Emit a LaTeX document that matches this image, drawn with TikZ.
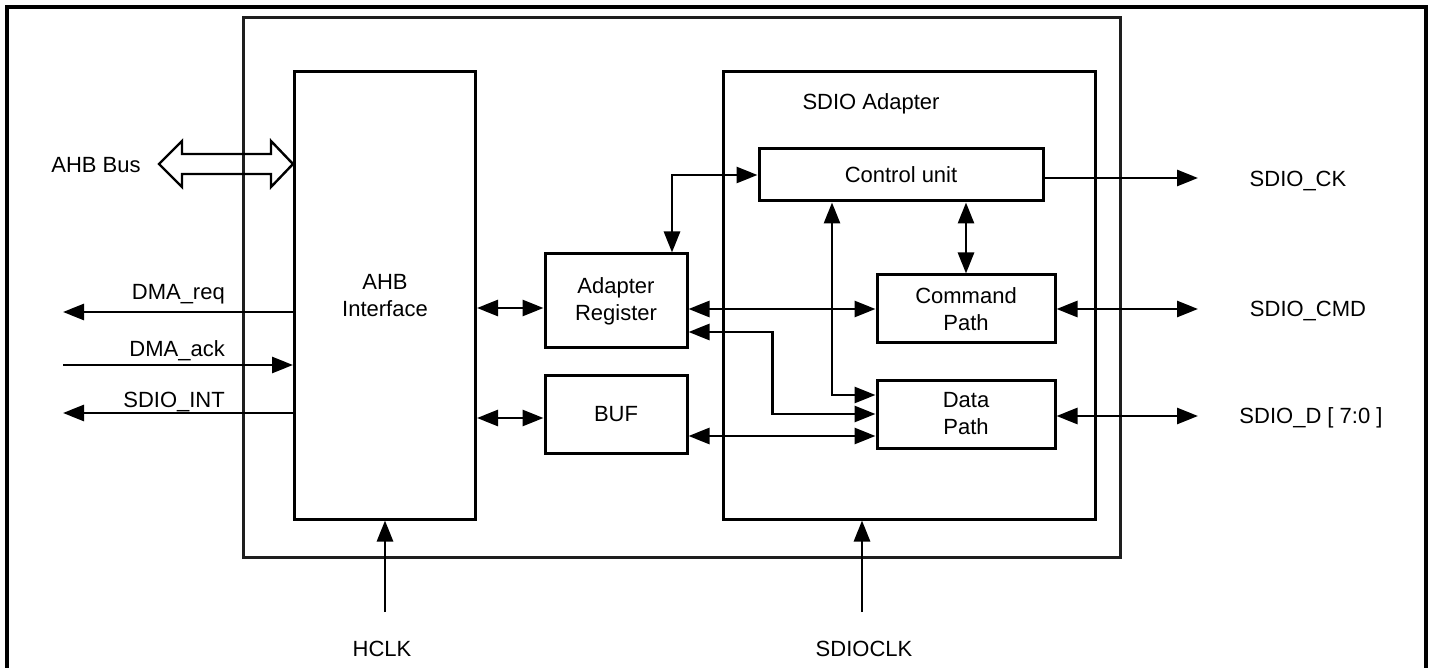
\documentclass[tikz,border=0pt]{standalone}
\usepackage{fontspec}
\setmainfont{Liberation Sans}
\usetikzlibrary{arrows.meta,positioning,calc}
\definecolor{ink}{HTML}{000000}
\definecolor{framegray}{HTML}{1E1E1E}
\tikzset{
  blockbox/.style={draw=ink,line width=3pt,align=center,inner sep=0pt,
                   font=\fontsize{22}{27}\selectfont},
  framebox/.style={draw=framegray,line width=3pt,inner sep=0pt},
  sigarr/.style={draw=ink,line width=2.8pt,
                 >={Triangle[length=21pt,width=16pt]}},
  sigtext/.style={inner sep=0pt,font=\fontsize{22}{27}\selectfont},
  busline/.style={draw=ink,line width=2.4pt,line join=miter}
}

\begin{document}
\begin{tikzpicture}[x=1pt,y=-1pt]
  \useasboundingbox (0,0) rectangle (1430,668);
  % page frame, open at the bottom
  \draw[ink,line width=3.4pt] (7,672) -- (7,7) -- (1426,7) -- (1426,672);

  \node[framebox,minimum width=877pt,minimum height=539pt] (chip) at (681.5,287.5) {};
  \node[blockbox,minimum width=181pt,minimum height=447pt] (ahb) at (385,295.5) {AHB\\Interface};
  \node[blockbox,minimum width=372pt,minimum height=447pt] (adapter) at (909.5,295.5) {};
  \node[sigtext,anchor=base] (adaptertitle) at (871,110) {SDIO Adapter};

  \node[blockbox,minimum width=284pt,minimum height=52pt] (ctrl) at (901,175) {Control unit};
  \node[blockbox,minimum width=178pt,minimum height=68pt] (cmd) at (966,309) {Command\\Path};
  \node[blockbox,minimum width=178pt,minimum height=68pt] (dpath) at (966,414) {Data\\Path};
  \node[blockbox,minimum width=142pt,minimum height=94pt] (areg) at (616,301) {Adapter\\Register};
  \node[blockbox,minimum width=142pt,minimum height=78pt] (buf) at (616,414) {BUF};

  % AHB bus (hollow double arrow)
  \coordinate (busy) at (0,164);
  \draw[busline] (ahb.west |- busy) -- ++(-22,-23) -- ++(0,13) -- ++(-89,0) -- ++(0,-13)
    -- ++(-23,23) -- ++(23,23) -- ++(0,-13) -- ++(89,0) -- ++(0,13) -- cycle;
  \node[sigtext,anchor=base] (buslbl) at (96,173) {AHB Bus};

  % left side signals
  \coordinate (reqend) at (63,312);
  \coordinate (ackend) at (63,365);
  \coordinate (intend) at (63,413);
  \draw[sigarr,->] (ahb.west |- reqend) -- (reqend);
  \draw[sigarr,->] (ackend) -- (ahb.west |- ackend);
  \draw[sigarr,->] (ahb.west |- intend) -- (intend);
  \node[sigtext,anchor=base east] (reqlbl) at (225,300) {DMA\_req};
  \node[sigtext,anchor=base east] (acklbl) at (225,356) {DMA\_ack};
  \node[sigtext,anchor=base east] (intlbl) at (225,407) {SDIO\_INT};

  % AHB interface to register and buffer
  \coordinate (regport) at ([yshift=-7pt]areg.west);
  \coordinate (bufport) at ([yshift=-4pt]buf.west);
  \draw[sigarr,<->] (ahb.east |- regport) -- (regport);
  \draw[sigarr,<->] (ahb.east |- bufport) -- (bufport);

  % inside the adapter
  \draw[sigarr,<->] (ctrl.west) -| ([xshift=56pt]areg.north);
  \draw[sigarr,<->] (cmd.west -| areg.east) -- (cmd.west);
  \draw[sigarr,<->] ([yshift=-31pt]areg.east) -| ([xshift=-103pt]dpath.west) -- (dpath.west);
  \draw[sigarr,<->] ([xshift=-69pt]ctrl.south) |- ([yshift=19pt]dpath.west);
  \draw[sigarr,<->] ([yshift=-22pt]buf.east) -- ([yshift=-22pt]dpath.west);
  \draw[sigarr,<->] (ctrl.south -| cmd.north) -- (cmd.north);

  % right side signals
  \coordinate (ckend) at (1198,178);
  \coordinate (cmdend) at (1198,309);
  \coordinate (datend) at (1198,416);
  \draw[sigarr,->] (ctrl.east |- ckend) -- (ckend);
  \draw[sigarr,<->] (cmd.east |- cmdend) -- (cmdend);
  \draw[sigarr,<->] (dpath.east |- datend) -- (datend);
  \node[sigtext,anchor=base] (cklbl) at (1298,187) {SDIO\_CK};
  \node[sigtext,anchor=base] (cmdlbl) at (1308,317) {SDIO\_CMD};
  \node[sigtext,anchor=base] (datlbl) at (1311,423) {SDIO\_D [ 7:0 ]};

  % clocks
  \coordinate (hclkend) at (385,612);
  \coordinate (sdclkend) at (862,612);
  \draw[sigarr,->] (hclkend) -- (ahb.south);
  \draw[sigarr,->] (sdclkend) -- (adapter.south -| sdclkend);
  \node[sigtext,anchor=base] (hclklbl) at (382,656) {HCLK};
  \node[sigtext,anchor=base] (sdclklbl) at (864,656) {SDIOCLK};
\end{tikzpicture}
\end{document}
